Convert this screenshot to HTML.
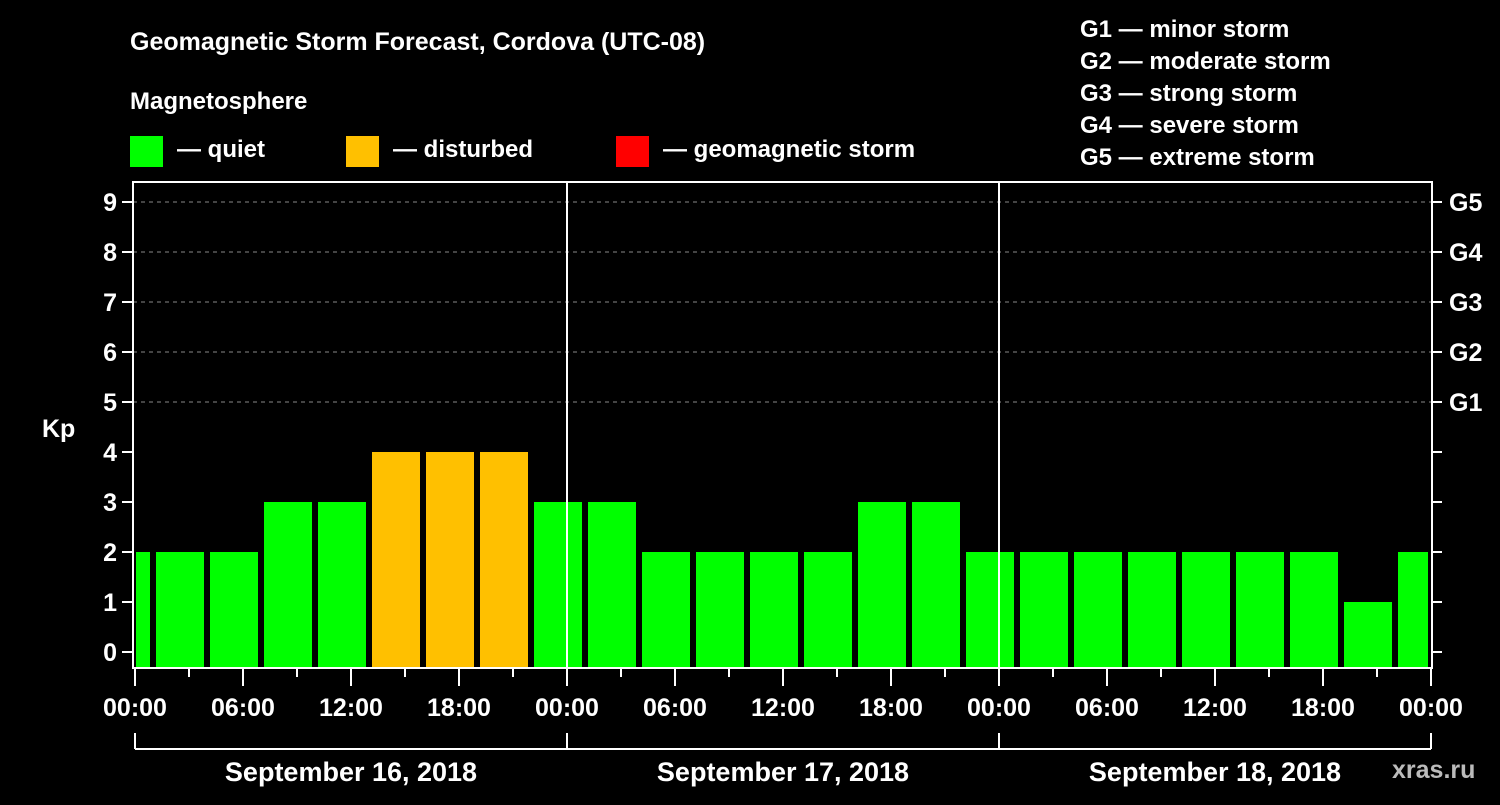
<!DOCTYPE html>
<html><head><meta charset="utf-8"><style>
body{margin:0;background:#000;width:1500px;height:800px;overflow:hidden}
svg text{font-family:"Liberation Sans",Arial,sans-serif;font-weight:bold;fill:#fff}
</style></head><body>
<svg id="c" width="1500" height="800">
<text x="130" y="50" font-size="25">Geomagnetic Storm Forecast, Cordova (UTC-08)</text>
<text x="130" y="109" font-size="24">Magnetosphere</text>
<g><rect x="130" y="136" width="33" height="31" fill="#00ff00"/><text x="177" y="157" font-size="24">— quiet</text></g>
<g><rect x="346" y="136" width="33" height="31" fill="#ffc000"/><text x="393" y="157" font-size="24">— disturbed</text></g>
<g><rect x="616" y="136" width="33" height="31" fill="#ff0000"/><text x="663" y="157" font-size="24">— geomagnetic storm</text></g>
<g font-size="24">
<text x="1080" y="37">G1 — minor storm</text>
<text x="1080" y="69">G2 — moderate storm</text>
<text x="1080" y="101">G3 — strong storm</text>
<text x="1080" y="133">G4 — severe storm</text>
<text x="1080" y="165">G5 — extreme storm</text>
</g>
<text x="42" y="437" font-size="25">Kp</text>
<text x="1392" y="778" font-size="25" fill="#bbb" style="fill:#bbb">xras.ru</text>
<g id="grid"></g><g id="bars"></g><g id="axes"></g>
</svg>
<script>
const kpValues=[2,2,2,3,3,4,4,4,3,3,2,2,2,2,3,3,2,2,2,2,2,2,2,1,2];
const firstBinHour=-2;
const yTicks=[0,1,2,3,4,5,6,7,8,9];
const gLabels=["G1","G2","G3","G4","G5"];
const xTickLabels=["00:00","06:00","12:00","18:00","00:00","06:00","12:00","18:00","00:00","06:00","12:00","18:00","00:00"];
const dayLabels=["September 16, 2018","September 17, 2018","September 18, 2018"];
const NS="http://www.w3.org/2000/svg";
const L=133,R=1432,T=182,B=668;
const x=h=>135+18*h, y=v=>652-50*v;
function mk(p,tag,a){const e=document.createElementNS(NS,tag);for(const k in a)e.setAttribute(k,a[k]);document.getElementById(p).appendChild(e);return e;}
for(let v=5;v<=9;v++){const e=mk('grid','line',{x1:L,x2:R,y1:y(v),y2:y(v),stroke:'#888','stroke-dasharray':'4,4'});

}
kpValues.forEach((v,i)=>{const h0=firstBinHour+3*i;let x0=x(h0)+3,x1=x(h0+3)-3;x0=Math.max(x0,L+3);x1=Math.min(x1,R-4);
const e=mk('bars','rect',{x:x0,y:y(v),width:x1-x0,height:B-y(v),fill:v>=5?'#ff0000':v>=4?'#ffc000':'#00ff00'});

});
const fr=mk('axes','rect',{x:L,y:T,width:R-L,height:B-T,fill:'none',stroke:'#fff','stroke-width':2});


[1,2].forEach(d=>{const e=mk('axes','line',{x1:x(24*d),x2:x(24*d),y1:T,y2:B,stroke:'#fff','stroke-width':2});

});
yTicks.forEach(v=>{mk('axes','line',{x1:122,x2:L,y1:y(v),y2:y(v),stroke:'#fff','stroke-width':2});
mk('axes','line',{x1:R,x2:R+10,y1:y(v),y2:y(v),stroke:'#fff','stroke-width':2});
const t=mk('axes','text',{x:117,y:y(v)+9,'font-size':25,'text-anchor':'end'});t.textContent=v;

});
gLabels.forEach((g,i)=>{const t=mk('axes','text',{x:1449,y:y(5+i)+9,'font-size':25});t.textContent=g;

});
for(let h=0;h<=72;h+=3){mk('axes','line',{x1:x(h),x2:x(h),y1:B,y2:h%6==0?686:677,stroke:'#fff','stroke-width':2});}
xTickLabels.forEach((s,i)=>{const t=mk('axes','text',{x:x(6*i),y:716,'font-size':25,'text-anchor':'middle'});t.textContent=s;

});
mk('axes','line',{x1:x(0),x2:x(72),y1:749,y2:749,stroke:'#fff','stroke-width':2});
for(let d=0;d<=3;d++)mk('axes','line',{x1:x(24*d),x2:x(24*d),y1:733,y2:749,stroke:'#fff','stroke-width':2});
dayLabels.forEach((s,i)=>{const t=mk('axes','text',{x:x(24*i+12),y:781,'font-size':27,'text-anchor':'middle'});t.textContent=s;

});
</script>
</body></html>
